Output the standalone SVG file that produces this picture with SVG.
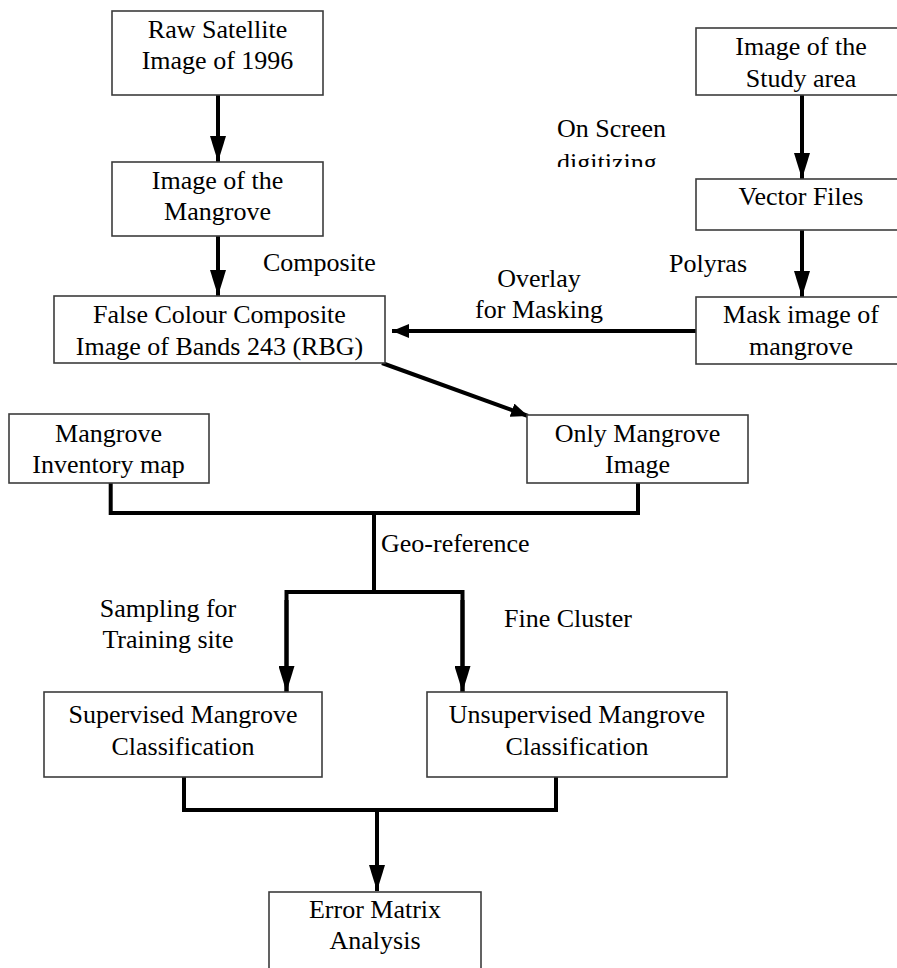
<svg xmlns="http://www.w3.org/2000/svg" width="897" height="968" viewBox="0 0 897 968">
<style>
.box{fill:#fff;stroke:#3c3c3c;stroke-width:1.6}
text{font-family:"Liberation Serif","Times New Roman",serif;font-size:26px;fill:#000}
.c{text-anchor:middle}
.ln{fill:none;stroke:#000;stroke-width:4}
</style>
<defs>
<marker id="av" markerUnits="userSpaceOnUse" markerWidth="26" markerHeight="16" refX="26" refY="8" orient="auto">
<path d="M0,0 L26,8 L0,16 Z" fill="#000"/>
</marker>
<marker id="as" markerUnits="userSpaceOnUse" markerWidth="17" markerHeight="14" refX="17" refY="7" orient="auto">
<path d="M0,0 L17,7 L0,14 Z" fill="#000"/>
</marker>
<clipPath id="clipDig"><rect x="540" y="140" width="200" height="27"/></clipPath>
</defs>
<rect width="897" height="968" fill="#fff"/>

<g id="connectors">
<line class="ln" x1="218" y1="95" x2="218" y2="162" marker-end="url(#av)"/>
<line class="ln" x1="218" y1="236" x2="218" y2="296" marker-end="url(#av)"/>
<line class="ln" x1="802" y1="95" x2="802" y2="179" marker-end="url(#av)"/>
<line class="ln" x1="802" y1="230" x2="802" y2="297" marker-end="url(#av)"/>
<line class="ln" x1="696" y1="331" x2="392" y2="331" marker-end="url(#as)"/>
<line class="ln" x1="382" y1="363" x2="528" y2="416" marker-end="url(#as)"/>
<polyline class="ln" points="110.7,483 110.7,513 638,513 638,483"/>
<line class="ln" x1="374" y1="513" x2="374" y2="592"/>
<polyline class="ln" points="286.5,692 286.5,592 462.5,592 462.5,692"/>
<line class="ln" x1="286.5" y1="600" x2="286.5" y2="692" marker-end="url(#av)"/>
<line class="ln" x1="462.5" y1="600" x2="462.5" y2="692" marker-end="url(#av)"/>
<polyline class="ln" points="184,777 184,810 556,810 556,777"/>
<line class="ln" x1="377" y1="810" x2="377" y2="891" marker-end="url(#av)"/>
</g>

<g id="labels">
<text x="263" y="271">Composite</text>
<text x="557" y="137">On Screen</text>
<text x="557" y="171" clip-path="url(#clipDig)">digitizing</text>
<text x="669" y="272">Polyras</text>
<text class="c" x="539" y="287">Overlay</text>
<text class="c" x="539" y="318">for Masking</text>
<text x="381" y="552">Geo-reference</text>
<text class="c" x="168" y="617">Sampling for</text>
<text class="c" x="168" y="648">Training site</text>
<text x="504" y="627">Fine Cluster</text>
</g>

<g id="raw-satellite">
<rect class="box" x="112" y="11" width="211" height="84"/>
<text class="c" x="217.5" y="38">Raw Satellite</text>
<text class="c" x="217.5" y="69">Image of 1996</text>
</g>
<g id="image-mangrove">
<rect class="box" x="112" y="162" width="211" height="74"/>
<text class="c" x="217.5" y="189">Image of the</text>
<text class="c" x="217.5" y="220">Mangrove</text>
</g>
<g id="false-colour">
<rect class="box" x="54" y="296" width="331" height="67"/>
<text class="c" x="219.5" y="323">False Colour Composite</text>
<text class="c" x="219.5" y="355">Image of Bands 243 (RBG)</text>
</g>
<g id="study-area">
<rect class="box" x="696" y="28" width="210" height="67"/>
<text class="c" x="801" y="55">Image of the</text>
<text class="c" x="801" y="87">Study area</text>
</g>
<g id="vector-files">
<rect class="box" x="696" y="179" width="210" height="51"/>
<text class="c" x="801" y="205">Vector Files</text>
</g>
<g id="mask-image">
<rect class="box" x="696" y="297" width="210" height="67"/>
<text class="c" x="801" y="323">Mask image of</text>
<text class="c" x="801" y="355">mangrove</text>
</g>
<g id="inventory-map">
<rect class="box" x="9" y="414" width="200" height="69"/>
<text class="c" x="108.5" y="442">Mangrove</text>
<text class="c" x="108.5" y="473">Inventory map</text>
</g>
<g id="only-mangrove">
<rect class="box" x="527" y="415" width="221" height="68"/>
<text class="c" x="637.5" y="442">Only Mangrove</text>
<text class="c" x="637.5" y="473">Image</text>
</g>
<g id="supervised">
<rect class="box" x="44" y="692" width="278" height="85"/>
<text class="c" x="183" y="723">Supervised Mangrove</text>
<text class="c" x="183" y="755">Classification</text>
</g>
<g id="unsupervised">
<rect class="box" x="427" y="692" width="300" height="85"/>
<text class="c" x="577" y="723">Unsupervised Mangrove</text>
<text class="c" x="577" y="755">Classification</text>
</g>
<g id="error-matrix">
<rect class="box" x="269" y="892" width="212" height="90"/>
<text class="c" x="375" y="918">Error Matrix</text>
<text class="c" x="375" y="949">Analysis</text>
</g>
</svg>
